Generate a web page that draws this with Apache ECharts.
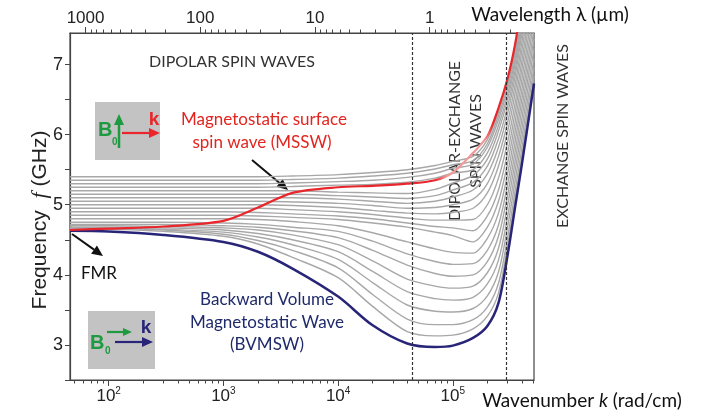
<!DOCTYPE html>
<html>
<head>
<meta charset="utf-8">
<script src="https://cdn.jsdelivr.net/npm/echarts@6/dist/echarts.min.js"></script>
<style>html,body{margin:0;background:#fff}#chart{width:711px;height:418px}</style>
</head>
<body>
<div id="chart"></div>
<script>
// wavenumber samples (rad/cm), shared by every curve
const K = [46, 100, 300, 1000, 2000, 4000, 1e4, 2e4, 4e4, 7e4, 1e5, 1.5e5, 2e5, 2.5e5, 3e5, 3.5e5, 4e5, 5.1e5]

// frequency (GHz) of the two highlighted modes
const BVMSW = [4.63, 4.62, 4.57, 4.47, 4.33, 4.09, 3.69, 3.28, 3.02, 2.97, 2.99, 3.10, 3.27, 3.60, 4.28, 4.98, 5.58, 6.73]
const MSSW = [4.64, 4.66, 4.69, 4.77, 4.96, 5.17, 5.25, 5.27, 5.30, 5.35, 5.46, 5.74, 5.98, 6.38, 6.80, 7.30, 7.90, 9.00]

// grey family of intermediate modes
const U3 = [5.40, 5.40, 5.40, 5.40, 5.40, 5.41, 5.43, 5.46, 5.50, 5.56, 5.62, 5.69, 5.93, 6.32, 6.75, 7.25, 7.85, 8.95]
const U2 = [5.35, 5.35, 5.35, 5.35, 5.35, 5.36, 5.38, 5.41, 5.45, 5.51, 5.57, 5.63, 5.87, 6.27, 6.70, 7.21, 7.81, 8.91]
const U1 = [5.30, 5.30, 5.30, 5.30, 5.30, 5.31, 5.33, 5.35, 5.39, 5.45, 5.52, 5.58, 5.82, 6.21, 6.65, 7.16, 7.76, 8.87]
const U0 = [5.25, 5.25, 5.25, 5.25, 5.25, 5.26, 5.28, 5.29, 5.32, 5.38, 5.45, 5.50, 5.74, 6.13, 6.57, 7.09, 7.69, 8.80]
const R8 = [5.20, 5.20, 5.20, 5.20, 5.20, 5.20, 5.18, 5.17, 5.16, 5.22, 5.31, 5.42, 5.65, 6.05, 6.50, 7.02, 7.62, 8.73]
const R7 = [5.15, 5.15, 5.15, 5.15, 5.15, 5.15, 5.13, 5.11, 5.09, 5.13, 5.21, 5.32, 5.55, 5.94, 6.40, 6.93, 7.53, 8.64]
const R6 = [5.10, 5.10, 5.10, 5.10, 5.10, 5.10, 5.08, 5.05, 5.02, 5.05, 5.11, 5.21, 5.44, 5.82, 6.30, 6.84, 7.44, 8.55]
const R5 = [5.05, 5.05, 5.05, 5.05, 5.05, 5.04, 5.02, 4.99, 4.95, 4.96, 5.00, 5.08, 5.30, 5.69, 6.17, 6.72, 7.32, 8.43]
const R4 = [5.00, 5.00, 5.00, 5.00, 5.00, 4.99, 4.96, 4.92, 4.88, 4.87, 4.89, 4.95, 5.17, 5.55, 6.04, 6.60, 7.20, 8.32]
const R3 = [4.95, 4.95, 4.95, 4.95, 4.95, 4.93, 4.90, 4.86, 4.81, 4.78, 4.78, 4.79, 5.00, 5.38, 5.89, 6.46, 7.06, 8.18]
const R2 = [4.90, 4.90, 4.90, 4.90, 4.89, 4.87, 4.84, 4.80, 4.74, 4.69, 4.67, 4.63, 4.84, 5.21, 5.74, 6.33, 6.93, 8.05]
const R1 = [4.85, 4.85, 4.85, 4.85, 4.84, 4.82, 4.79, 4.74, 4.68, 4.61, 4.56, 4.47, 4.68, 5.05, 5.59, 6.19, 6.79, 7.91]
const D1 = [4.80, 4.80, 4.80, 4.80, 4.79, 4.76, 4.70, 4.60, 4.47, 4.37, 4.32, 4.31, 4.52, 4.88, 5.44, 6.05, 6.65, 7.77]
const D2 = [4.75, 4.75, 4.75, 4.74, 4.72, 4.68, 4.62, 4.48, 4.30, 4.19, 4.15, 4.16, 4.35, 4.71, 5.29, 5.91, 6.51, 7.64]
const D3 = [4.72, 4.72, 4.72, 4.70, 4.68, 4.63, 4.53, 4.35, 4.14, 4.02, 3.98, 4.00, 4.19, 4.55, 5.14, 5.77, 6.37, 7.50]
const D4 = [4.70, 4.70, 4.69, 4.67, 4.64, 4.57, 4.43, 4.20, 3.94, 3.84, 3.81, 3.84, 4.03, 4.38, 4.99, 5.63, 6.23, 7.37]
const D5 = [4.68, 4.68, 4.67, 4.64, 4.59, 4.50, 4.33, 4.05, 3.76, 3.66, 3.64, 3.68, 3.87, 4.21, 4.83, 5.49, 6.09, 7.23]
const D6 = [4.67, 4.67, 4.65, 4.61, 4.54, 4.43, 4.22, 3.89, 3.57, 3.48, 3.47, 3.52, 3.70, 4.04, 4.68, 5.35, 5.95, 7.09]
const D7 = [4.66, 4.66, 4.64, 4.58, 4.49, 4.35, 4.10, 3.72, 3.37, 3.29, 3.29, 3.36, 3.54, 3.88, 4.53, 5.21, 5.81, 6.96]
const D8 = [4.65, 4.65, 4.62, 4.55, 4.44, 4.25, 3.96, 3.55, 3.19, 3.13, 3.14, 3.23, 3.41, 3.74, 4.41, 5.10, 5.70, 6.84]
const GREY = [U3, U2, U1, U0, R8, R7, R6, R5, R4, R3, R2, R1, D1, D2, D3, D4, D5, D6, D7, D8]

// region boundaries (rad/cm)
const BOUNDS = [44000, 290000]

// axes
const K_MIN = 46
const K_MAX = 510000
const F_MIN = 2.5
const F_MAX = 7.45
const K_MAJOR = [100, 1000, 10000, 100000]
const K_MINOR = [50, 60, 70, 80, 90, 200, 300, 400, 500, 600, 700, 800, 900,
  2000, 3000, 4000, 5000, 6000, 7000, 8000, 9000,
  20000, 30000, 40000, 50000, 60000, 70000, 80000, 90000, 200000, 300000, 400000, 500000]
const LAM_MAJOR = [1000, 100, 10, 1] // µm
const LAM_MINOR = [900, 800, 700, 600, 500, 400, 300, 200, 90, 80, 70, 60, 50, 40, 30, 20,
  9, 8, 7, 6, 5, 4, 3, 2, 0.9, 0.8, 0.7, 0.6, 0.5, 0.4, 0.3, 0.2]
const F_TICKS = [2.5, 3, 3.5, 4, 4.5, 5, 5.5, 6, 6.5, 7]
const F_LABELS = [3, 4, 5, 6, 7]

const lamToK = lam => 2 * Math.PI * 1e4 / lam
const pairs = arr => K.map((k, i) => [k, arr[i]])

const AXIS = '#444'
const GREEN = '#1e9a40'
const RED = '#e8262b'
const NAVY = '#282578'
const SANS = 'Liberation Sans'
const CAL = 'Lato'

function logAxis(position, ticks, len, labels, formatter) {
  return {
    type: 'log', min: K_MIN, max: K_MAX, position,
    axisLine: { show: !!labels, lineStyle: { color: AXIS, width: 1.2 } },
    axisTick: { show: true, customValues: ticks, length: len, lineStyle: { color: AXIS } },
    axisLabel: labels ? {
      customValues: labels, formatter, margin: 6, color: '#222', fontFamily: SANS, fontSize: 17,
      rich: { b: { fontSize: 17, fontFamily: SANS, color: '#222', lineHeight: 20 },
              s: { fontSize: 10, fontFamily: SANS, color: '#222', verticalAlign: 'top', lineHeight: 20 } }
    } : { show: false },
    splitLine: { show: false }
  }
}

function arrow(x1, y1, x2, y2, color, w, hl, hw) {
  const a = Math.atan2(y2 - y1, x2 - x1)
  const bx = x2 - hl * Math.cos(a)
  const by = y2 - hl * Math.sin(a)
  const px = -Math.sin(a) * hw
  const py = Math.cos(a) * hw
  return [
    { type: 'line', shape: { x1, y1, x2: bx, y2: by }, style: { stroke: color, lineWidth: w } },
    { type: 'polygon', shape: { points: [[x2, y2], [bx + px, by + py], [bx - px, by - py]] }, style: { fill: color } }
  ]
}

function txt(x, y, text, size, color, extra, styleExtra) {
  return Object.assign({
    type: 'text', x, y,
    style: Object.assign({ text, fontSize: size, fontFamily: CAL, fill: color, align: 'center', verticalAlign: 'middle' }, styleExtra || {})
  }, extra || {})
}

const chart = echarts.init(document.getElementById('chart'))

const series = GREY.map(arr => ({
  type: 'line', data: pairs(arr), showSymbol: false, smooth: 0.3, silent: true,
  lineStyle: { color: '#a8a8a8', width: 1.4 }, z: 2
}))
series.push({
  type: 'line', data: pairs(BVMSW), showSymbol: false, smooth: 0.3, silent: true,
  lineStyle: { color: NAVY, width: 2.5 }, z: 3,
  markLine: {
    silent: true, symbol: 'none', label: { show: false },
    lineStyle: { color: '#333', type: [3, 2], width: 1.2 },
    data: BOUNDS.map(k => ({ xAxis: k }))
  }
})
series.push({
  type: 'line', data: pairs(MSSW), showSymbol: false, smooth: 0.3, silent: true, z: 3,
  lineStyle: {
    width: 2.2,
    color: new echarts.graphic.LinearGradient(70, 0, 535, 0, [
      { offset: 0, color: RED }, { offset: 0.785, color: RED },
      { offset: 0.81, color: '#f29a9a' }, { offset: 0.89, color: '#f29a9a' },
      { offset: 0.91, color: RED }, { offset: 1, color: RED }
    ], true)
  }
})

const glow = { textShadowColor: '#fff', textShadowBlur: 3 }

const graphic = [
  // field / wavevector sketches
  { type: 'rect', shape: { x: 95, y: 102, width: 65, height: 58 }, style: { fill: '#c3c3c3' } },
  ...arrow(119, 148, 119, 114, GREEN, 2.5, 11, 5),
  ...arrow(122, 133, 160, 133, RED, 2.2, 11, 5),
  { type: 'text', x: 98, y: 130, style: { text: 'B', fontSize: 20, fontWeight: 'bold', fontFamily: SANS, fill: GREEN, verticalAlign: 'middle' } },
  { type: 'text', x: 112, y: 142, style: { text: '0', fontSize: 10, fontWeight: 'bold', fontFamily: SANS, fill: GREEN, verticalAlign: 'middle' } },
  { type: 'text', x: 154, y: 120, style: { text: 'k', fontSize: 19, fontWeight: 'bold', fontFamily: SANS, fill: RED, align: 'center', verticalAlign: 'middle' } },

  { type: 'rect', shape: { x: 88, y: 311, width: 67, height: 58 }, style: { fill: '#c3c3c3' } },
  ...arrow(107, 332, 132, 332, GREEN, 2.2, 9, 4),
  ...arrow(115, 342, 153, 342, NAVY, 2.2, 11, 5),
  { type: 'text', x: 90, y: 343, style: { text: 'B', fontSize: 20, fontWeight: 'bold', fontFamily: SANS, fill: GREEN, verticalAlign: 'middle' } },
  { type: 'text', x: 105, y: 351, style: { text: '0', fontSize: 10, fontWeight: 'bold', fontFamily: SANS, fill: GREEN, verticalAlign: 'middle' } },
  { type: 'text', x: 146, y: 328, style: { text: 'k', fontSize: 19, fontWeight: 'bold', fontFamily: SANS, fill: NAVY, align: 'center', verticalAlign: 'middle' } },

  // pointers
  ...arrow(252, 160, 288, 190, '#111', 2, 11, 5),
  ...arrow(72, 234, 103, 256, '#111', 2, 11, 5),

  // annotations
  txt(232, 62, 'DIPOLAR SPIN WAVES', 16, '#333'),
  txt(264, 120, 'Magnetostatic surface', 17, '#e3241f'),
  txt(262, 143, 'spin wave (MSSW)', 17, '#e3241f'),
  txt(99, 274, 'FMR', 17, '#111'),
  txt(267, 300, 'Backward Volume', 17, '#1f2a6b', null, glow),
  txt(267, 323, 'Magnetostatic Wave', 17, '#1f2a6b', null, glow),
  txt(267, 345, '(BVMSW)', 17, '#1f2a6b', null, glow),
  txt(455, 141, 'DIPOLAR-EXCHANGE', 16, '#333', { rotation: Math.PI / 2 }),
  txt(476, 141, 'SPIN WAVES', 16, '#333', { rotation: Math.PI / 2 }),
  txt(563, 136, 'EXCHANGE SPIN WAVES', 16, '#333', { rotation: Math.PI / 2 }),

  // axis titles
  txt(550, 15, 'Wavelength λ (µm)', 19, '#111'),
  txt(582, 401, 'Wavenumber {i|k} (rad/cm)', 19, '#111', null,
    { rich: { i: { fontSize: 19, fontFamily: CAL, fontStyle: 'italic', fill: '#111' } } }),
  txt(40, 220, 'Frequency  {i|f} (GHz)', 21, '#222', { rotation: Math.PI / 2 },
    { fontFamily: SANS, rich: { i: { fontSize: 22, fontFamily: 'Liberation Serif', fontStyle: 'italic', fill: '#222' } } })
]

chart.setOption({
  animation: false,
  grid: { left: 70, right: 177, top: 33, bottom: 38, show: true, borderColor: AXIS, borderWidth: 1.2 },
  xAxis: [
    logAxis('bottom', K_MAJOR, 6, K_MAJOR, v => '{b|10}{s|' + Math.round(Math.log10(v)) + '}'),
    logAxis('bottom', K_MINOR, 3.5),
    logAxis('top', LAM_MAJOR.map(lamToK), 6, LAM_MAJOR.map(lamToK), v => String(Math.round(2 * Math.PI * 1e4 / v))),
    logAxis('top', LAM_MINOR.map(lamToK), 3.5)
  ],
  yAxis: {
    type: 'value', min: F_MIN, max: F_MAX,
    axisLine: { show: true, lineStyle: { color: AXIS, width: 1.2 } },
    axisTick: { show: true, customValues: F_TICKS, length: 5, lineStyle: { color: AXIS } },
    axisLabel: { customValues: F_LABELS, margin: 7, color: '#222', fontFamily: SANS, fontSize: 18 },
    splitLine: { show: false }
  },
  series,
  graphic
})
</script>
</body>
</html>
